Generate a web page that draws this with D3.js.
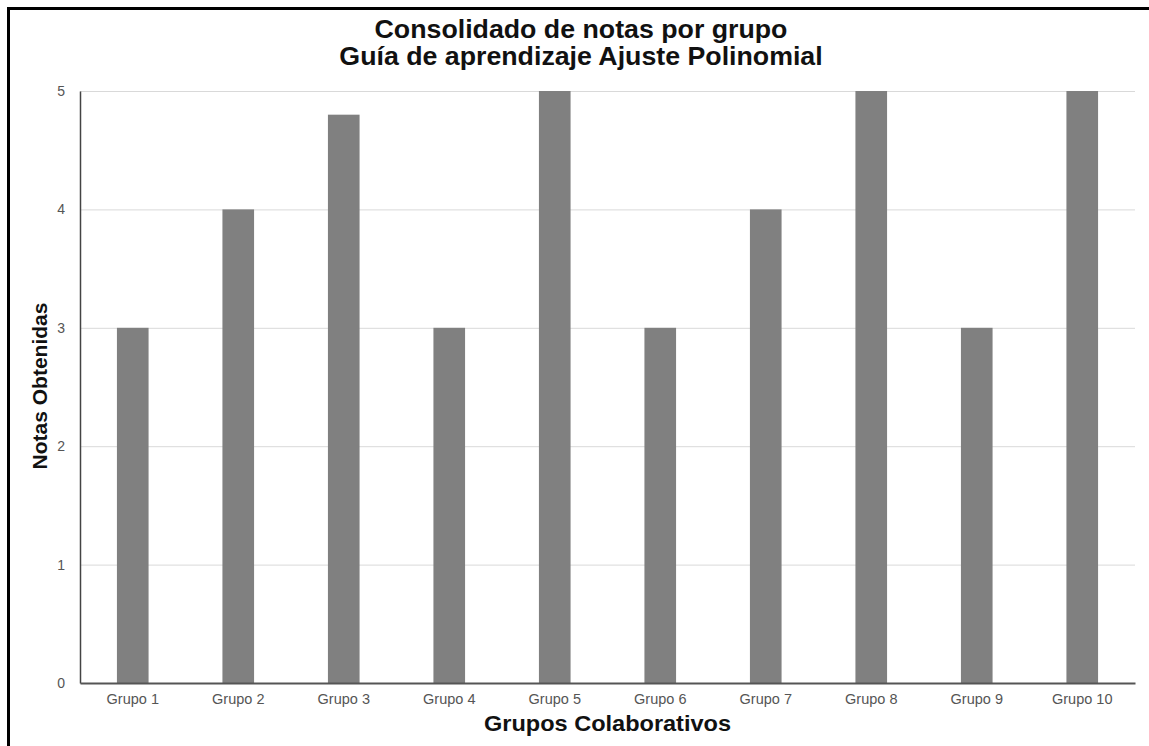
<!DOCTYPE html>
<html>
<head>
<meta charset="utf-8">
<script src="https://cdn.jsdelivr.net/npm/d3@7"></script>
<style>
  html, body { margin: 0; padding: 0; background: #fff; }
  svg { display: block; font-family: "Liberation Sans", Arial, sans-serif; }
</style>
</head>
<body>
<svg id="chart" width="1149" height="746"></svg>
<script>
const categories = ["Grupo 1","Grupo 2","Grupo 3","Grupo 4","Grupo 5","Grupo 6","Grupo 7","Grupo 8","Grupo 9","Grupo 10"];
const notas = [3, 4, 4.8, 3, 5, 3, 4, 5, 3, 5];
const yTicks = [0, 1, 2, 3, 4, 5];
const titleLines = ["Consolidado de notas por grupo", "Guía de aprendizaje Ajuste Polinomial"];
const xTitle = "Grupos Colaborativos";
const yTitle = "Notas Obtenidas";

const svg = d3.select("#chart");
const W = 1149, H = 746;
const m = { left: 80, right: 1135, top: 91, bottom: 683 };

// frame
svg.append("rect").attr("x", 8.5).attr("y", 8.5).attr("width", W + 20).attr("height", H + 20)
  .attr("fill", "none").attr("stroke", "#000").attr("stroke-width", 3);

const x = d3.scaleBand().domain(categories).range([m.left, m.right]).paddingInner(0.7).paddingOuter(0.35);
const y = d3.scaleLinear().domain([0, 5]).range([m.bottom, m.top]);

// grid
svg.append("g").selectAll("line").data(yTicks.filter(d => d > 0)).join("line")
  .attr("x1", m.left).attr("x2", m.right)
  .attr("y1", d => y(d) + 0.5).attr("y2", d => y(d) + 0.5)
  .attr("stroke", "#d9d9d9").attr("stroke-width", 1);

// bars
svg.append("g").selectAll("rect").data(notas).join("rect")
  .attr("x", (d, i) => x(categories[i]))
  .attr("width", x.bandwidth())
  .attr("y", d => y(d))
  .attr("height", d => y(0) - y(d))
  .attr("fill", "#808080");

// y axis
const yAxis = d3.axisLeft(y).tickValues(yTicks).tickSize(0).tickPadding(15).tickFormat(d3.format("d"));
const gy = svg.append("g").attr("transform", `translate(${m.left},0)`).call(yAxis);
gy.select(".domain").attr("stroke", "#444").attr("stroke-width", 1.5);
gy.selectAll("text").attr("font-size", 14).attr("fill", "#555").attr("font-family", "Liberation Sans, Arial, sans-serif");

// x axis
const xAxis = d3.axisBottom(x).tickSize(0).tickPadding(11);
const gx = svg.append("g").attr("transform", `translate(0,${m.bottom})`).call(xAxis);
gx.select(".domain").attr("stroke", "#555").attr("stroke-width", 2);
gx.selectAll("text").attr("font-size", 14.5).attr("fill", "#555").attr("font-family", "Liberation Sans, Arial, sans-serif");

// titles
svg.append("g").selectAll("text").data(titleLines).join("text")
  .attr("transform", (d, i) => `translate(581,${38 + i * 27}) scale(1.07,1)`)
  .attr("text-anchor", "middle").attr("font-weight", "bold").attr("font-size", 25)
  .attr("fill", "#111").text(d => d);

svg.append("text").attr("transform", `translate(${(m.left + m.right) / 2},731) scale(1.07,1)`)
  .attr("text-anchor", "middle").attr("font-weight", "bold").attr("font-size", 22)
  .attr("fill", "#111").text(xTitle);

svg.append("text").attr("transform", `translate(47,${(m.top + m.bottom) / 2 - 1}) rotate(-90)`)
  .attr("text-anchor", "middle").attr("font-weight", "bold").attr("font-size", 21)
  .attr("fill", "#111").text(yTitle);
</script>
</body>
</html>
